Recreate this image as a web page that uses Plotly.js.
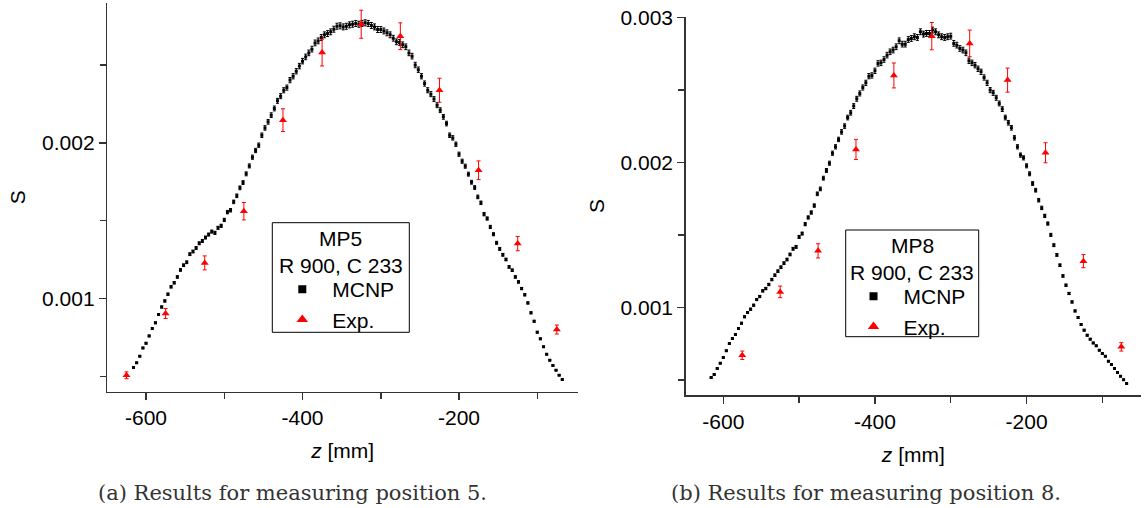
<!DOCTYPE html>
<html>
<head>
<meta charset="utf-8">
<script src="https://cdn.plot.ly/plotly-3.0.1.min.js"></script>
<style>html,body{margin:0;padding:0;background:#fff;}#chart{width:1144px;height:508px;}</style>
</head>
<body>
<div id="chart"></div>
<script>
// ---- data (S values given in units of 1e-3) ----
const zGrid = [-616,-612,-608,-604,-600,-596,-592,-588,-584,-580,-576,-572,-568,-564,-560,-556,-552,-548,-544,-540,-536,-532,-528,-524,-520,-516,-512,-508,-504,-500,-496,-492,-488,-484,-480,-476,-472,-468,-464,-460,-456,-452,-448,-444,-440,-436,-432,-428,-424,-420,-416,-412,-408,-404,-400,-396,-392,-388,-384,-380,-376,-372,-368,-364,-360,-356,-352,-348,-344,-340,-336,-332,-328,-324,-320,-316,-312,-308,-304,-300,-296,-292,-288,-284,-280,-276,-272,-268,-264,-260,-256,-252,-248,-244,-240,-236,-232,-228,-224,-220,-216,-212,-208,-204,-200,-196,-192,-188,-184,-180,-176,-172,-168,-164,-160,-156,-152,-148,-144,-140,-136,-132,-128,-124,-120,-116,-112,-108,-104,-100,-96,-92,-88,-84,-80,-76,-72,-68];

const mcnpMP5 = [0.557,0.587,0.630,0.683,0.713,0.760,0.807,0.844,0.897,0.946,0.985,1.028,1.075,1.101,1.139,1.184,1.214,1.233,1.285,1.302,1.325,1.355,1.370,1.392,1.411,1.430,1.422,1.454,1.467,1.505,1.555,1.567,1.621,1.660,1.711,1.745,1.801,1.852,1.908,1.951,1.985,
2.049,2.096,2.135,2.178,2.221,2.270,2.300,2.338,2.355,2.403,2.428,2.460,2.493,2.525,2.552,2.578,2.602,2.642,2.655,2.677,2.694,2.702,2.713,2.730,2.749,2.752,2.745,2.749,2.758,2.762,2.767,2.762,2.767,2.771,2.767,2.754,2.745,2.728,2.728,2.719,2.707,2.694,2.672,2.649,2.645,2.630,2.617,2.578,2.557,2.500,2.470,
2.428,2.381,2.338,2.313,2.281,2.242,2.210,2.167,2.124,2.049,2.032,1.991,1.927,1.882,1.850,1.799,1.747,1.713,1.653,1.615,1.542,1.514,1.460,1.413,1.358,1.319,1.281,1.251,1.203,1.182,1.139,1.107,1.064,1.024,0.972,0.908,0.854,0.784,0.741,0.690,0.642,0.604,0.570,0.540,0.508,0.480];

const mcnpMP8 = [0.517,0.538,0.579,0.616,0.655,0.703,0.752,0.786,0.814,0.855,0.892,0.936,0.966,0.989,1.016,1.055,1.076,1.115,1.131,1.159,1.193,1.223,1.251,1.278,1.306,1.331,1.366,1.405,1.418,1.487,1.510,1.575,1.621,1.655,1.703,1.784,1.818,1.892,1.945,1.995,2.064,
2.108,2.159,2.211,2.251,2.310,2.343,2.389,2.439,2.476,2.517,2.549,2.595,2.600,2.632,2.683,2.687,2.710,2.740,2.763,2.775,2.798,2.839,2.816,2.816,2.848,2.855,2.867,2.862,2.901,2.885,2.890,2.890,2.913,2.901,2.880,2.867,2.862,2.867,2.871,2.821,2.809,2.786,2.775,2.756,2.701,2.687,2.671,2.646,2.625,2.586,2.549,
2.499,2.480,2.446,2.407,2.368,2.310,2.274,2.239,2.170,2.108,2.051,2.032,1.977,1.922,1.855,1.809,1.740,1.687,1.632,1.579,1.501,1.430,1.363,1.292,1.218,1.154,1.097,1.039,0.977,0.931,0.883,0.844,0.809,0.782,0.756,0.736,0.706,0.683,0.664,0.630,0.607,0.579,0.552,0.526,0.503,0.476];

const mcnpRelErrPct = 0.7;

const expZ_MP5 = [-625,-575,-525,-475,-425,-375,-325,-275,-225,-175,-125,-75];
const expS_MP5 = [0.507,0.904,1.229,1.561,2.146,2.580,2.762,2.685,2.338,1.824,1.353,0.801];
const expE_MP5 = [0.022,0.032,0.045,0.056,0.073,0.086,0.090,0.086,0.077,0.060,0.046,0.029];

const expZ_MP8 = [-575,-525,-475,-425,-375,-325,-275,-225,-175,-125,-75];
const expS_MP8 = [0.671,1.108,1.391,2.090,2.600,2.871,2.821,2.568,2.067,1.320,0.729];
const expE_MP8 = [0.029,0.040,0.049,0.069,0.086,0.094,0.092,0.083,0.069,0.045,0.029];

const xTickVals = [-600,-400,-200];
const xTickText = ['-600','-400','-200'];
const xMinorVals = [-500,-300,-100];
const yTickVals5 = [0.001,0.002];
const yTickText5 = ['0.001','0.002'];
const yTickVals8 = [0.001,0.002,0.003];
const yTickText8 = ['0.001','0.002','0.003'];
const yMinorVals = [0.0005,0.0015,0.0025];

const legendHeads = [['MP5', 'R 900, C 233'], ['MP8', 'R 900, C 233']];
const seriesNames = ['MCNP', 'Exp.'];
const captions = ['(a) Results for measuring position 5.', '(b) Results for measuring position 8.'];

// ---- build ----
const W = 1144, H = 508;
const px = v => v / W;           // pixel -> paper x
const py = v => 1 - v / H;       // pixel -> paper y
const k = v => v / 1000;
const SANS = 'Liberation Sans, Arial, Helvetica, sans-serif';

function panel(xa, ya, lg, zE, sE, eE, mc) {
  return [
    {x: zGrid, y: mc.map(k), xaxis: xa, yaxis: ya, type: 'scatter', mode: 'markers',
     marker: {symbol: 'square', size: 3, color: '#000'},
     error_y: {type: 'percent', value: mcnpRelErrPct, color: '#000', thickness: 1, width: 1.5},
     showlegend: false},
    {x: zE, y: sE.map(k), xaxis: xa, yaxis: ya, type: 'scatter', mode: 'markers',
     marker: {symbol: 'triangle-up', size: 7, color: '#ff0000'},
     error_y: {type: 'data', array: eE.map(k), color: '#ff0000', thickness: 1, width: 2},
     showlegend: false},
    {x: [null], y: [null], xaxis: xa, yaxis: ya, type: 'scatter', mode: 'markers', name: seriesNames[0],
     marker: {symbol: 'square', size: 8, color: '#000'}, legend: lg, showlegend: true},
    {x: [null], y: [null], xaxis: xa, yaxis: ya, type: 'scatter', mode: 'markers', name: seriesNames[1],
     marker: {symbol: 'triangle-up', size: 10, color: '#ff0000'}, legend: lg, showlegend: true}
  ];
}

const data = [].concat(
  panel('x', 'y', 'legend', expZ_MP5, expS_MP5, expE_MP5, mcnpMP5),
  panel('x2', 'y2', 'legend2', expZ_MP8, expS_MP8, expE_MP8, mcnpMP8)
);

const axisCommon = {
  showline: true, linecolor: '#333', linewidth: 1.5, mirror: false,
  showgrid: false, zeroline: false,
  ticks: 'outside', ticklen: 7, tickwidth: 1.5, tickcolor: '#333',
  tickfont: {family: SANS, size: 21, color: '#000'},
  tickmode: 'array', automargin: false
};

function xax(domain, range) {
  return Object.assign({}, axisCommon, {
    domain: domain, range: range, tickvals: xTickVals, ticktext: xTickText,
    minor: {tickvals: xMinorVals, ticks: 'outside', ticklen: 6, tickwidth: 1.5, tickcolor: '#333'},
    title: {text: '<i>z</i> [mm]', font: {family: SANS, size: 21, color: '#000'}, standoff: 15}
  });
}
function yax(domain, range, tv, tt, anchor) {
  return Object.assign({}, axisCommon, {
    domain: domain, range: range, tickvals: tv, ticktext: tt, anchor: anchor,
    minor: {tickvals: yMinorVals, ticks: 'outside', ticklen: 6, tickwidth: 1.5, tickcolor: '#333'},
    title: {text: 'S', font: {family: SANS, size: 21, color: '#000'}, standoff: 10}
  });
}

function legendCfg(xPix, yPix) {
  return {
    x: px(xPix), y: py(yPix), xanchor: 'left', yanchor: 'top',
    bgcolor: 'rgba(0,0,0,0)', borderwidth: 0,
    font: {family: SANS, size: 21, color: '#000'},
    itemwidth: 50, tracegroupgap: 0
  };
}

// legend frames: [left, top, right, bottom] in pixels
const boxes = [[272.3, 222.7, 409.3, 332.3], [845.7, 230, 978.7, 336.7]];
const headY = [[238, 265.7], [245, 272.3]];

const shapes = boxes.map(b => ({
  type: 'rect', xref: 'paper', yref: 'paper',
  x0: px(b[0]), x1: px(b[2]), y0: py(b[3]), y1: py(b[1]),
  line: {color: '#000', width: 1}, fillcolor: '#fff', layer: 'below'
}));

const annotations = [];
boxes.forEach((b, i) => {
  legendHeads[i].forEach((t, j) => {
    annotations.push({text: t, xref: 'paper', yref: 'paper', x: px((b[0] + b[2]) / 2), y: py(headY[i][j]),
      xanchor: 'center', yanchor: 'middle', showarrow: false,
      font: {family: SANS, size: 21, color: '#000'}});
  });
});
[292.7, 865.6].forEach((cx, i) => {
  annotations.push({text: captions[i], xref: 'paper', yref: 'paper', x: px(cx), y: py(493),
    xanchor: 'center', yanchor: 'middle', showarrow: false,
    font: {family: 'DejaVu Serif, serif', size: 21, color: '#333'}});
});

const layout = {
  width: W, height: H,
  margin: {l: 0, r: 0, t: 0, b: 0},
  paper_bgcolor: '#fff', plot_bgcolor: 'rgba(0,0,0,0)',
  showlegend: true,
  xaxis: xax([0.0938, 0.5052], [-649.5, -48]),
  yaxis: yax([0.2289, 0.9947], [0.0004015, 0.0029004], yTickVals5, yTickText5, 'x'),
  xaxis2: Object.assign(xax([0.5994, 0.9974], [-649.6, -49]), {anchor: 'y2'}),
  yaxis2: yax([0.2224, 0.9671], [0.000397, 0.003005], yTickVals8, yTickText8, 'x2'),
  legend: legendCfg(272.3, 269),
  legend2: legendCfg(843.5, 276),
  shapes: shapes,
  annotations: annotations
};

Plotly.newPlot('chart', data, layout, {staticPlot: true, displayModeBar: false});
</script>
</body>
</html>
